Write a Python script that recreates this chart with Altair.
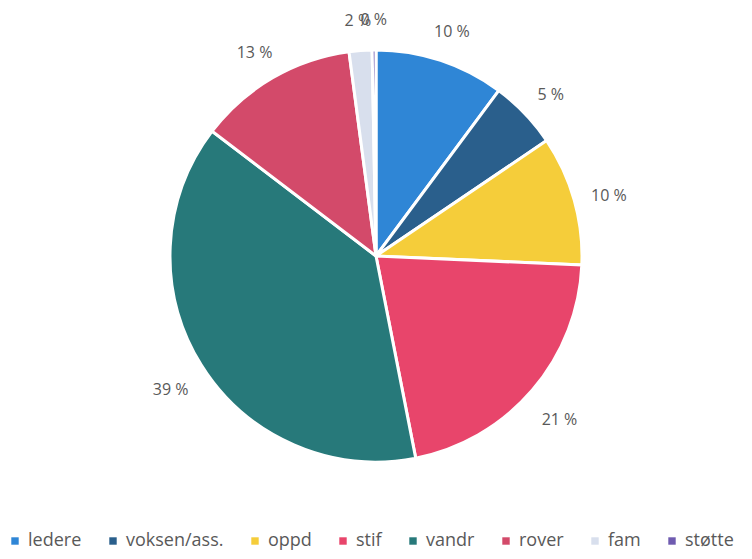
import altair as alt
import pandas as pd

categories = ["ledere", "voksen/ass.", "oppd", "stif", "vandr", "rover", "fam", "støtte"]
values = [10.2, 5.4, 10.2, 21.3, 38.6, 12.6, 1.8, 0.3]
colors = ["#2f86d6", "#2a5f8c", "#f5cd3a", "#e8456b", "#27797a", "#d34a6a", "#d8dfed", "#6f5bb0"]

df = pd.DataFrame({
    "kategori": categories,
    "verdi": values,
    "rekke": list(range(len(categories))),
    "etikett": [f"{round(v)} %" for v in values],
})

base = alt.Chart(df).encode(
    theta=alt.Theta("verdi:Q", stack=True),
    order=alt.Order("rekke:O", sort="ascending"),
)

pie = base.mark_arc(outerRadius=206, stroke="white", strokeWidth=3).encode(
    color=alt.Color(
        "kategori:N",
        scale=alt.Scale(domain=categories, range=colors),
        sort=categories,
        legend=alt.Legend(
            title=None,
            orient="none",
            legendX=-2,
            legendY=524,
            direction="horizontal",
            symbolType="square",
            symbolSize=55,
            labelFontSize=18,
            labelColor="#595959",
            labelFont="Open Sans",
            labelOffset=4,
            columnPadding=22,
            symbolStrokeWidth=0,
        ),
    )
)

text = base.mark_text(radius=242, dy=6, fontSize=16, font="Open Sans", color="#595959").encode(
    text="etikett:N"
)

chart = (pie + text).properties(
    width=736,
    height=496,
    autosize=alt.AutoSizeParams(type="none"),
    padding={"left": 0, "top": 0, "right": 0, "bottom": 47},
).configure_view(stroke=None).configure(background="white")

chart.save("out.html", embed_options={"renderer": "svg", "actions": False})
